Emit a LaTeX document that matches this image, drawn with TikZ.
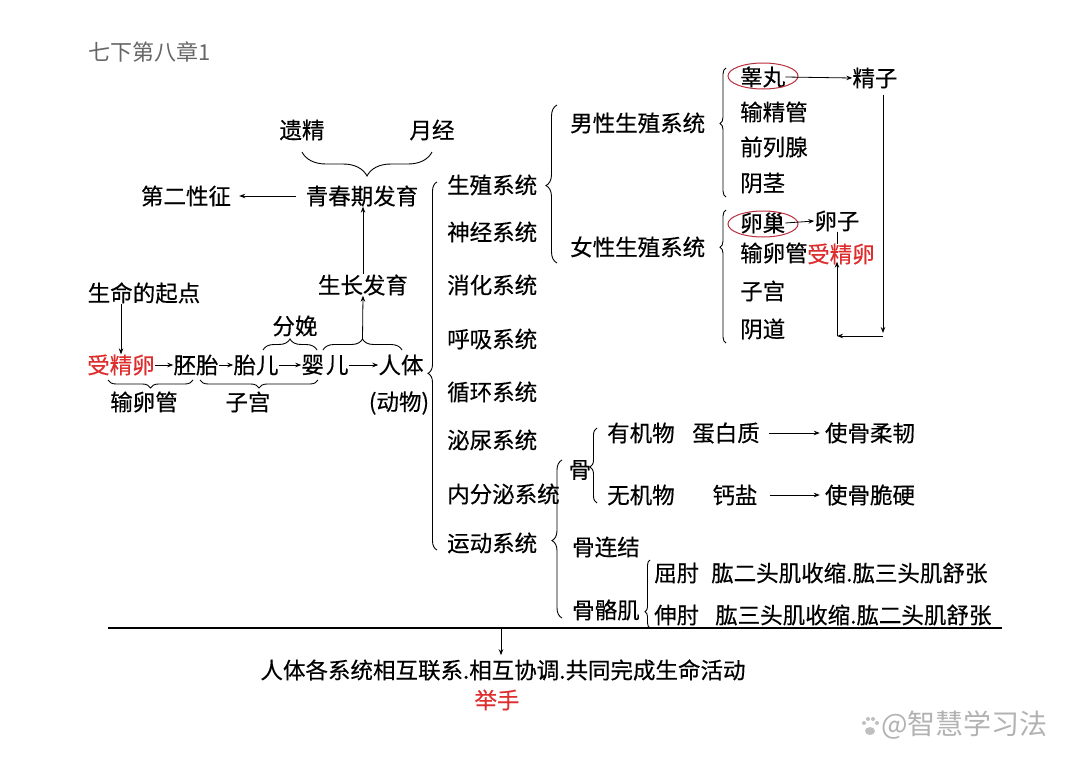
\documentclass[tikz,border=0pt]{standalone}
\usepackage{fontspec}
\newfontfamily\cjk[FakeBold=0.4]{Noto Sans CJK SC}
\newfontfamily\cjkqian{Noto Sans CJK SC}
\usetikzlibrary{arrows.meta,decorations.pathreplacing}
\definecolor{hong}{RGB}{222,45,45}
\definecolor{quan}{RGB}{185,45,60}

\begin{document}
\begin{tikzpicture}[x=1pt,y=-1pt,
    every node/.style={font=\cjk\fontsize{22.5}{26}\selectfont,inner sep=0pt},
    jt/.style={-{Stealth[length=6pt,width=4.5pt]},line width=0.8pt},
    kh/.style 2 args={decorate,decoration={brace,amplitude=#1,aspect=#2},line width=0.9pt},
    hongzi/.style={text=hong}]
    \useasboundingbox (0,0) rectangle (1080,763);

    \node[anchor=west,text=black!60,font=\cjkqian\fontsize{22}{26}\selectfont] (biaoti) at (88,52) {七下第八章1};

    % puberty
    \node (yijing) at (302,130) {遗精};
    \node (yuejing) at (432,130) {月经};
    \draw[kh={24}{0.5}] (432,152) -- (302,152);
    \node (qingchunqi) at (362,196) {青春期发育};
    \node (dierxing) at (186,196) {第二性征};
    \draw[jt] ([xshift=-10pt]qingchunqi.west) -- ([xshift=8pt]dierxing.east);
    \node (shengzhang) at (363,285) {生长发育};
    \draw[jt] (shengzhang.north) -- (shengzhang.north |- qingchunqi.south);

    % development row
    \node (qidian) at (144,293) {生命的起点};
    \node[hongzi] (shoujing) at (121,365) {受精卵};
    \node (peitai) at (196,365) {胚胎};
    \node (taier) at (256,365) {胎儿};
    \node (yinger) at (325,365) {婴\hspace{2pt}儿};
    \node (renti) at (401,365) {人体};
    \draw[jt] (qidian.south -| shoujing.north) -- (shoujing.north);
    \draw[jt] (shoujing) -- (peitai);
    \draw[jt] (peitai) -- (taier);
    \draw[jt] (taier) -- (yinger);
    \draw[jt] (yinger) -- (renti);

    \draw[kh={8}{0.5}] (193,380) -- (108,380);
    \node (shuluanguan) at (144,402) {输卵管};
    \draw[kh={8}{0.5}] (318,380) -- (200,380);
    \node (zigong) at (248,402) {子宫};
    \node (dongwu) at (399,403) {(动物)};

    \node (fenmian) at (295,326) {分娩};
    \draw[kh={11}{0.5}] (263,350) -- (317,350);
    \draw[kh={11}{0.5}] (323,350) -- (402,350);
    \coordinate (jianding) at (362.5,339);
    \draw[jt] (jianding) -- (shengzhang.south);

    % systems
    \draw[kh={9}{0.48}] (437,550) -- (437,182);
    \node[anchor=west] (shengzhi) at (447,185) {生殖系统};
    \node[anchor=west] (shenjing) at (447,232) {神经系统};
    \node[anchor=west] (xiaohua) at (447,285) {消化系统};
    \node[anchor=west] (huxi) at (447,339) {呼吸系统};
    \node[anchor=west] (xunhuan) at (447,392) {循环系统};
    \node[anchor=west] (miniao) at (447,440) {泌尿系统};
    \node[anchor=west] (neifenmi) at (447,494) {内分泌系统};
    \node[anchor=west] (yundong) at (447,543) {运动系统};

    % reproduction
    \draw[kh={11}{0.49}] (557,263) -- (557,105);
    \node[anchor=west] (nanxing) at (570,123) {男性生殖系统};
    \node[anchor=west] (nvxing) at (570,247) {女性生殖系统};

    \draw[kh={6}{0.57}] (726,197) -- (726,68);
    \node[anchor=west] (gaowan) at (740,77) {睾丸};
    \node[anchor=west] (shujingguan) at (740,112) {输精管};
    \node[anchor=west] (qianliexian) at (740,147) {前列腺};
    \node[anchor=west] (yinjing) at (740,183) {阴茎};
    \node (jingzi) at (875,78) {精子};
    \draw[quan,line width=1pt] (763,76) ellipse [x radius=35pt,y radius=13pt];
    \draw[jt] (gaowan.east) -- (jingzi.west);

    \draw[kh={6}{0.72}] (726,343) -- (726,210);
    \node[anchor=west] (luanchao) at (740,223) {卵巢};
    \node[anchor=west] (shuluan2) at (740,253) {输卵管};
    \node[anchor=west] (zigong2) at (740,291) {子宫};
    \node[anchor=west] (yindao) at (740,329) {阴道};
    \node (luanzi) at (837,221) {卵子};
    \node[hongzi] (shoujing2) at (841,254) {受精卵};
    \draw[quan,line width=1pt] (763,224) ellipse [x radius=35pt,y radius=13pt];
    \draw[jt] (luanchao.east) -- (luanzi.west);

    \coordinate (youxia) at (883,336);
    \coordinate (zuoxia) at (837,336);
    \draw[jt,shorten <=6pt] ([xshift=8pt]jingzi.south) -- ([yshift=3pt]youxia);
    \draw[jt] (youxia) -- (zuoxia);
    \draw[jt] (zuoxia) -- ([yshift=3pt]zuoxia |- shoujing2.south);
    \draw[line width=0.8pt] (luanzi.south -| zuoxia) -- ++(0,12);

    % movement
    \draw[kh={10}{0.49}] (562,618) -- (562,460);
    \node (gu) at (580,470) {骨};
    \node[anchor=west] (gulianjie) at (572,547) {骨连结};
    \node[anchor=west] (gugeji) at (572,610) {骨骼肌};

    \draw[kh={7}{0.48}] (597,503) -- (597,428);
    \node[anchor=west] (youji) at (607,433) {有机物};
    \node[anchor=west] (wuji) at (607,495) {无机物};
    \node (danbai) at (726,433) {蛋白质};
    \node (gaiyan) at (735,495) {钙盐};
    \node (rouren) at (870,433) {使骨柔韧};
    \node (cuiying) at (870,495) {使骨脆硬};
    \draw[jt] ([xshift=9pt]danbai.east) -- ([xshift=-5pt]rouren.west);
    \draw[jt] ([xshift=12pt]gaiyan.east) -- ([xshift=-5pt]cuiying.west);

    \draw[kh={5}{0.24}] (650,628) -- (650,560);
    \node[anchor=west] (quzhou) at (654,573) {屈肘\hspace{12pt}肱二头肌收缩.肱三头肌舒张};
    \node[anchor=west] (shenzhou) at (654,615) {伸肘\hspace{16pt}肱三头肌收缩.肱二头肌舒张};

    % summary
    \coordinate (hengzuo) at (108,628);
    \coordinate (hengyou) at (1002,628);
    \draw[line width=1.3pt] (hengzuo) -- (hengyou);
    \node (zongjie) at (503,670) {人体各系统相互联系.相互协调.共同完成生命活动};
    \node[hongzi] (jushou) at (497,700) {举手};
    \coordinate (xiajian) at (501,628);
    \draw[jt] (xiajian) -- ([yshift=4pt]xiajian |- zongjie.north);

    % watermark
    \node[anchor=west,text=black!30,font=\cjkqian\fontsize{28}{30}\selectfont] (shuiyin) at (881,725) {@智慧学习法};
    \fill[black!25] (870,731) ellipse [x radius=5pt,y radius=4pt];
    \fill[black!25] (864,723) circle (2pt) (868,719) circle (2pt) (873,719) circle (2pt) (877,723) circle (2pt);
\end{tikzpicture}
\end{document}
